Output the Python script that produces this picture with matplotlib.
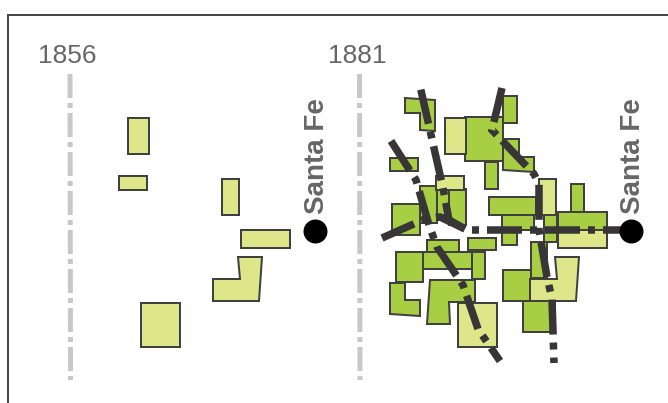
import matplotlib
matplotlib.use('Agg')
import matplotlib.pyplot as plt
from matplotlib.patches import Polygon

plt.rcParams['font.family'] = ['Liberation Sans', 'DejaVu Sans']
plt.rcParams['lines.scale_dashes'] = False

years = ['1856', '1881']
year_x = [70, 359.5]
place = 'Santa Fe'
place_x = [315, 631]
place_y = 230.5

# town blocks in 1856, picture coordinates
blocks_1856 = [
    [(128, 118), (149, 118), (149, 154), (128, 154)],
    [(119, 176), (147, 176), (147, 190), (119, 190)],
    [(222, 179), (239, 179), (239, 215), (222, 215)],
    [(241, 230), (290, 230), (290, 248), (241, 248)],
    [(238, 257), (262, 257), (259, 301), (213, 301), (213, 279), (240, 279)],
    [(141, 303), (180, 303), (180, 347), (141, 347)],
]

# blocks added by 1881
blocks_1881 = [
    [(405, 98), (435, 100), (435, 131), (420, 130), (420, 113), (405, 113)],
    [(465, 117), (503, 117), (503, 161), (465, 161)],
    [(485, 162), (498, 162), (498, 189), (485, 189)],
    [(503, 96), (517, 96), (517, 123), (503, 123)],
    [(503, 139), (519, 139), (519, 157), (534, 157), (534, 172), (503, 170)],
    [(390, 158), (418, 158), (418, 171), (390, 171)],
    [(420, 186), (437, 186), (437, 223), (420, 223)],
    [(437, 189), (450, 189), (450, 215), (437, 215)],
    [(449, 189), (466, 189), (466, 225), (449, 225)],
    [(392, 204), (420, 204), (420, 235), (392, 235)],
    [(468, 238), (496, 238), (496, 250), (468, 250)],
    [(489, 197), (536, 197), (536, 215), (489, 215)],
    [(502, 215), (534, 215), (534, 230), (517, 230), (517, 245), (502, 245)],
    [(544, 215), (557, 215), (557, 242), (544, 242)],
    [(571, 184), (584, 184), (584, 212), (571, 212)],
    [(558, 212), (607, 212), (607, 232), (558, 232)],
    [(427, 240), (459, 240), (459, 252), (427, 252)],
    [(423, 252), (472, 252), (472, 269), (423, 269)],
    [(472, 252), (485, 252), (485, 279), (472, 279)],
    [(396, 252), (423, 252), (423, 282), (396, 282)],
    [(390, 283), (405, 283), (405, 300), (420, 300), (420, 316), (390, 314)],
    [(430, 280), (475, 280), (475, 302), (449, 302), (450, 324), (427, 324)],
    [(503, 270), (531, 270), (531, 301), (503, 301)],
    [(531, 242), (547, 242), (547, 278), (531, 278)],
    [(523, 301), (555, 301), (555, 332), (523, 332)],
]

# roads, 1881
road_a = [(631, 230), (467, 230), (449, 220), (443, 188), (420, 86)]
road_b = [(382, 238), (425, 219), (440, 217), (465, 229)]
road_c = [(391, 141), (416, 180), (429, 225), (437, 247), (463, 285), (478, 329), (500, 361)]
road_d = [(502, 88), (492, 130), (534, 174), (539, 184), (539, 230), (547, 277), (552, 299), (554, 363)]
road_offsets_px = [7, 0, 0, 0]

old_color = '#dde689'
new_color = '#a8ce43'
edge_color = '#404040'
road_color = '#373536'
gray_text = '#666666'
shift_1881 = 317

px = 0.72  # points per pixel at dpi 100

fig = plt.figure(figsize=(6.68, 4.03), dpi=100)
ax = fig.add_axes([0, 0, 1, 1])
ax.set_xlim(0, 668)
ax.set_ylim(403, 0)
ax.axis('off')

# frame, only left and top show
ax.plot([7.5, 7.5, 668], [403, 14.5, 14.5], color='#484848', lw=2 * px, solid_joinstyle='miter')

# year lines
for name, x in zip(years, year_x):
    ax.plot([x, x + 0.5], [74, 380], color='#c8c8c8', lw=5 * px,
            linestyle=(0, (24 * px, 5 * px, 5 * px, 5 * px)), dash_capstyle='butt')
    ax.text(x - 2.5, 56, name, color=gray_text, fontsize=19, ha='center', va='center')

for pts in blocks_1856:
    ax.add_patch(Polygon(pts, closed=True, fc=old_color, ec=edge_color, lw=2 * px))

for pts in blocks_1881:
    ax.add_patch(Polygon(pts, closed=True, fc=new_color, ec=edge_color, lw=2 * px))

# the old blocks are still there in 1881
for pts in blocks_1856:
    moved = [(x + shift_1881, y) for x, y in pts]
    ax.add_patch(Polygon(moved, closed=True, fc=old_color, ec=edge_color, lw=2 * px))

for road, off in zip([road_a, road_b, road_c, road_d], road_offsets_px):
    ax.plot([p[0] for p in road], [p[1] for p in road], color=road_color, lw=7.5 * px,
            linestyle=(off * px, (35 * px, 8 * px, 7 * px, 8 * px)),
            dash_capstyle='butt', dash_joinstyle='miter')

for x in place_x:
    ax.plot([x], [place_y], 'o', color='black', ms=24 * px, mew=0, zorder=5)
    ax.text(x + 2.5, 214, place, color=gray_text, fontsize=20, fontweight='bold',
            rotation=90, ha='center', va='bottom')

fig.savefig('out.png', dpi=100)
